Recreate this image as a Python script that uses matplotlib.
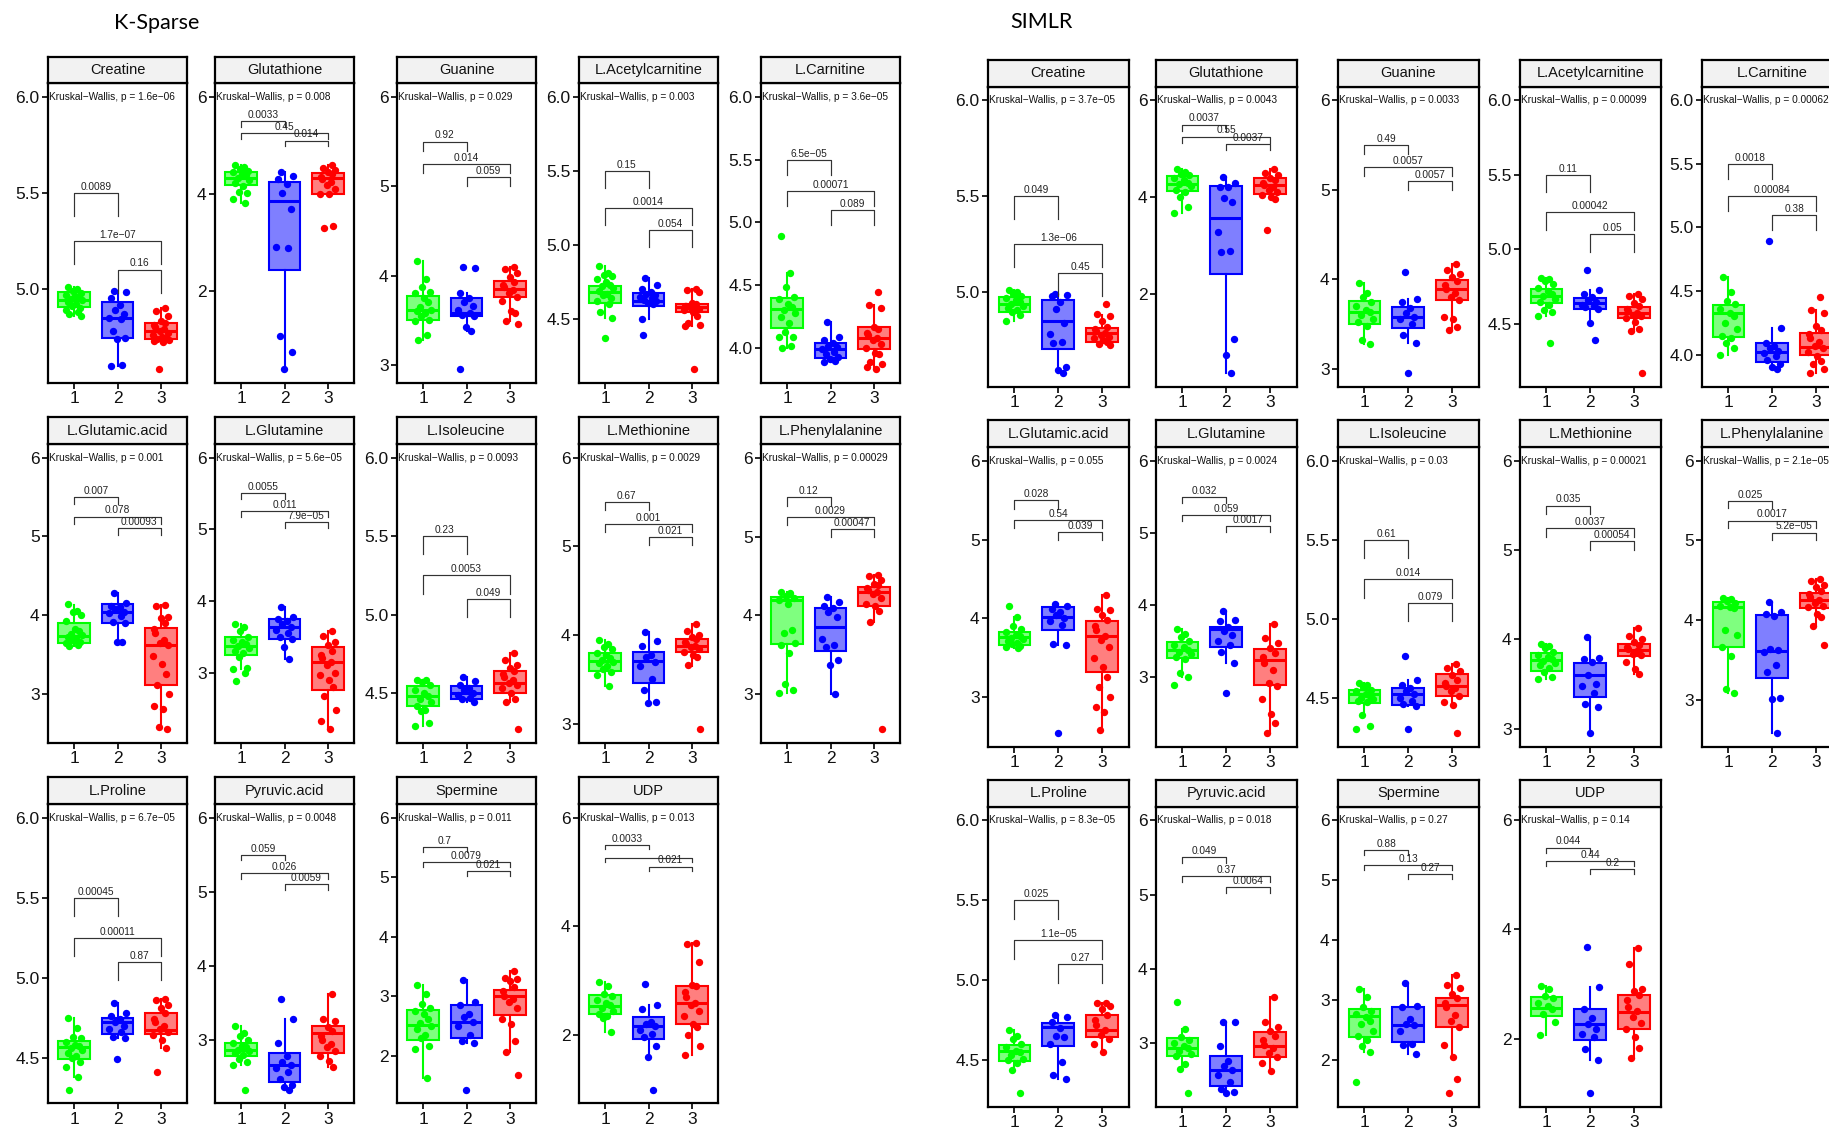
import numpy as np
import matplotlib
matplotlib.use("Agg")
import matplotlib.pyplot as plt
from matplotlib.colors import to_rgba

plt.rcParams['font.family'] = ['Liberation Sans', 'DejaVu Sans']

FIG_W, FIG_H = 1829, 1129

# ---------------- shared definitions ----------------
GROUPS = ["1", "2", "3"]
GROUP_COLORS = ["#00FF00", "#0000FF", "#FF0000"]
METABOLITES = ["Creatine", "Glutathione", "Guanine", "L.Acetylcarnitine", "L.Carnitine",
               "L.Glutamic.acid", "L.Glutamine", "L.Isoleucine", "L.Methionine", "L.Phenylalanine",
               "L.Proline", "Pyruvic.acid", "Spermine", "UDP"]
BRACKET_PAIRS = [(1, 2), (1, 3), (2, 3)]
BRACKET_Y = [5.5, 5.25, 5.1]
KRUSKAL_Y = 6.0
TICK_STEP = [0.5, 2, 1, 0.5, 0.5, 1, 1, 0.5, 1, 1, 0.5, 1, 1, 2]

# ---------------- K-Sparse ----------------
KS_KRUSKAL_P = ["1.6e-06", "0.008", "0.029", "0.003", "3.6e-05", "0.001", "5.6e-05",
                "0.0093", "0.0029", "0.00029", "6.7e-05", "0.0048", "0.011", "0.013"]
KS_PAIR_P = [["0.0089", "1.7e-07", "0.16"], ["0.0033", "0.45", "0.014"], ["0.92", "0.014", "0.059"],
             ["0.15", "0.0014", "0.054"], ["6.5e-05", "0.00071", "0.089"], ["0.007", "0.078", "0.00093"],
             ["0.0055", "0.011", "7.9e-05"], ["0.23", "0.0053", "0.049"], ["0.67", "0.001", "0.021"],
             ["0.12", "0.0029", "0.00047"], ["0.00045", "0.00011", "0.87"], ["0.059", "0.026", "0.0059"],
             ["0.7", "0.0079", "0.021"], ["0.0033", "", "0.021"]]
KS_TIP = [0.12, 0.12, 0.10, 0.113, 0.12, 0.09, 0.08, 0.117, 0.087, 0.11, 0.115, 0.072, 0.073, 0.074]

ks_creatine_pts = ([5.01, 5.00, 4.99, 4.98, 4.97, 4.96, 4.95, 4.945, 4.94, 4.93, 4.92, 4.91, 4.90, 4.89, 4.88, 4.87, 4.86],
                   [4.99, 4.985, 4.95, 4.915, 4.89, 4.87, 4.85, 4.84, 4.78, 4.745, 4.74, 4.605, 4.60],
                   [4.90, 4.885, 4.86, 4.83, 4.82, 4.81, 4.80, 4.79, 4.78, 4.77, 4.76, 4.75, 4.745, 4.74, 4.735, 4.73, 4.725, 4.58])
ks_creatine_box = ([4.86, 4.907, 4.944, 4.984, 5.01], [4.60, 4.742, 4.849, 4.93, 4.99], [4.72, 4.736, 4.78, 4.82, 4.90])

ks_glutathione_pts = ([4.59, 4.55, 4.52, 4.48, 4.45, 4.42, 4.38, 4.33, 4.28, 4.22, 4.17, 4.03, 4.02, 3.90, 3.81],
                      [4.45, 4.37, 4.30, 4.20, 4.02, 3.68, 2.90, 2.88, 1.07, 0.745, 0.38],
                      [4.60, 4.53, 4.50, 4.45, 4.40, 4.35, 4.30, 4.25, 4.18, 4.10, 4.00, 3.99, 3.33, 3.30])
ks_glutathione_box = ([3.81, 4.18, 4.32, 4.455, 4.59], [0.38, 2.42, 3.855, 4.235, 4.45], [3.99, 4.0, 4.33, 4.43, 4.60])

ks_guanine_pts = ([4.165, 3.96, 3.87, 3.82, 3.80, 3.75, 3.70, 3.65, 3.62, 3.60, 3.58, 3.55, 3.50, 3.49, 3.33, 3.28],
                  [4.10, 4.08, 3.80, 3.75, 3.70, 3.66, 3.62, 3.58, 3.56, 3.55, 3.42, 3.38, 2.95],
                  [4.10, 4.07, 4.03, 3.98, 3.93, 3.90, 3.87, 3.84, 3.80, 3.76, 3.72, 3.60, 3.58, 3.49, 3.46])
ks_guanine_box = ([3.28, 3.50, 3.62, 3.775, 4.165], [3.38, 3.547, 3.584, 3.753, 3.80], [3.49, 3.757, 3.846, 3.944, 4.10])

ks_acetyl_pts = ([4.86, 4.81, 4.80, 4.79, 4.77, 4.75, 4.73, 4.72, 4.71, 4.69, 4.67, 4.66, 4.64, 4.62, 4.60, 4.55, 4.505, 4.37],
                 [4.775, 4.73, 4.70, 4.68, 4.67, 4.66, 4.65, 4.64, 4.63, 4.62, 4.61, 4.60, 4.50, 4.39],
                 [4.70, 4.695, 4.68, 4.61, 4.60, 4.59, 4.585, 4.58, 4.575, 4.57, 4.56, 4.55, 4.52, 4.47, 4.46, 4.45, 4.16])
ks_acetyl_box = ([4.505, 4.607, 4.68, 4.725, 4.86], [4.50, 4.59, 4.62, 4.675, 4.775], [4.45, 4.55, 4.58, 4.60, 4.70])

ks_carnitine_pts = ([4.89, 4.60, 4.49, 4.41, 4.39, 4.35, 4.33, 4.30, 4.28, 4.25, 4.20, 4.13, 4.09, 4.09, 4.02, 4.00],
                    [4.21, 4.09, 4.06, 4.04, 4.02, 4.01, 3.99, 3.97, 3.95, 3.93, 3.91, 3.90, 3.89],
                    [4.45, 4.34, 4.32, 4.17, 4.15, 4.12, 4.10, 4.08, 4.06, 4.03, 4.00, 3.96, 3.95, 3.89, 3.87, 3.85, 3.83])
ks_carnitine_box = ([4.0, 4.157, 4.31, 4.40, 4.60], [3.89, 3.92, 3.995, 4.04, 4.21], [3.83, 3.99, 4.08, 4.165, 4.34])

ks_glutamic_pts = ([4.14, 4.05, 4.04, 4.00, 3.93, 3.82, 3.80, 3.76, 3.74, 3.72, 3.70, 3.68, 3.66, 3.64, 3.62, 3.61],
                   [4.28, 4.15, 4.12, 4.10, 4.07, 4.04, 4.02, 3.99, 3.91, 3.90, 3.66, 3.66],
                   [4.13, 4.12, 3.98, 3.96, 3.90, 3.82, 3.77, 3.68, 3.64, 3.62, 3.48, 3.38, 3.25, 3.11, 2.99, 2.85, 2.80, 2.58, 2.55])
ks_glutamic_box = ([3.61, 3.65, 3.735, 3.90, 4.13], [3.66, 3.90, 4.04, 4.14, 4.28], [2.55, 3.105, 3.62, 3.84, 4.13])

ks_glutamine_pts = ([3.675, 3.63, 3.58, 3.50, 3.45, 3.42, 3.40, 3.37, 3.34, 3.30, 3.27, 3.22, 3.07, 3.05, 3.00, 2.88],
                    [3.92, 3.77, 3.75, 3.72, 3.68, 3.64, 3.60, 3.55, 3.50, 3.47, 3.35, 3.19],
                    [3.58, 3.51, 3.42, 3.38, 3.30, 3.25, 3.20, 3.14, 3.10, 3.00, 2.97, 2.90, 2.80, 2.67, 2.47, 2.33, 2.21])
ks_glutamine_box = ([3.05, 3.25, 3.37, 3.49, 3.675], [3.19, 3.465, 3.64, 3.745, 3.92], [2.21, 2.76, 3.14, 3.36, 3.58])

ks_isoleucine_pts = ([4.585, 4.58, 4.57, 4.55, 4.52, 4.50, 4.48, 4.46, 4.44, 4.42, 4.39, 4.385, 4.31, 4.29],
                     [4.60, 4.575, 4.55, 4.53, 4.52, 4.50, 4.49, 4.47, 4.46, 4.44],
                     [4.755, 4.71, 4.68, 4.66, 4.64, 4.62, 4.60, 4.58, 4.565, 4.55, 4.53, 4.50, 4.46, 4.44, 4.27])
ks_isoleucine_box = ([4.29, 4.415, 4.48, 4.543, 4.585], [4.44, 4.46, 4.50, 4.547, 4.60], [4.44, 4.50, 4.565, 4.643, 4.755])

ks_methionine_pts = ([3.94, 3.90, 3.87, 3.84, 3.80, 3.77, 3.74, 3.72, 3.70, 3.68, 3.65, 3.62, 3.58, 3.55, 3.43],
                     [4.03, 3.93, 3.88, 3.78, 3.75, 3.70, 3.65, 3.50, 3.38, 3.25, 3.24],
                     [4.13, 4.05, 4.00, 3.98, 3.95, 3.92, 3.90, 3.88, 3.86, 3.84, 3.81, 3.78, 3.75, 3.66, 2.94])
ks_methionine_box = ([3.43, 3.594, 3.707, 3.80, 3.94], [3.24, 3.46, 3.707, 3.81, 4.03], [3.65, 3.81, 3.88, 3.96, 4.13])

ks_phenyl_pts = ([4.30, 4.28, 4.25, 4.22, 4.20, 4.14, 3.82, 3.78, 3.65, 3.62, 3.53, 3.13, 3.05, 3.02],
                 [4.23, 4.17, 4.12, 4.10, 4.04, 3.98, 3.70, 3.62, 3.60, 3.43, 3.37, 3.00],
                 [4.51, 4.50, 4.45, 4.40, 4.38, 4.35, 4.32, 4.30, 4.27, 4.22, 4.15, 4.12, 4.06, 3.92, 2.56])
ks_phenyl_box = ([3.02, 3.637, 4.20, 4.235, 4.30], [3.0, 3.545, 3.85, 4.09, 4.23], [3.92, 4.12, 4.30, 4.36, 4.51])

ks_proline_pts = ([4.75, 4.685, 4.63, 4.62, 4.60, 4.58, 4.57, 4.56, 4.55, 4.53, 4.51, 4.50, 4.475, 4.44, 4.38, 4.30],
                  [4.84, 4.78, 4.76, 4.74, 4.72, 4.70, 4.68, 4.66, 4.63, 4.62, 4.49],
                  [4.865, 4.86, 4.83, 4.81, 4.78, 4.74, 4.72, 4.70, 4.68, 4.66, 4.64, 4.61, 4.56, 4.41])
ks_proline_box = ([4.38, 4.49, 4.565, 4.605, 4.75], [4.62, 4.65, 4.72, 4.75, 4.84], [4.56, 4.645, 4.676, 4.78, 4.865])

ks_pyruvic_pts = ([3.19, 3.10, 3.06, 3.00, 2.96, 2.92, 2.90, 2.87, 2.85, 2.82, 2.80, 2.75, 2.70, 2.66, 2.33],
                  [3.56, 3.29, 2.96, 2.79, 2.70, 2.66, 2.62, 2.57, 2.47, 2.40, 2.36, 2.33],
                  [3.62, 3.29, 3.25, 3.18, 3.12, 3.05, 3.00, 2.95, 2.90, 2.85, 2.78, 2.72, 2.63])
ks_pyruvic_box = ([2.66, 2.79, 2.87, 2.955, 3.19], [2.33, 2.44, 2.66, 2.83, 3.29], [2.63, 2.82, 3.09, 3.19, 3.62])

ks_spermine_pts = ([3.19, 3.04, 2.87, 2.80, 2.75, 2.70, 2.62, 2.55, 2.50, 2.45, 2.35, 2.30, 2.17, 2.11, 1.62],
                   [3.28, 2.90, 2.85, 2.70, 2.65, 2.57, 2.50, 2.35, 2.25, 2.22, 1.43],
                   [3.43, 3.30, 3.29, 3.26, 3.15, 3.08, 3.00, 2.95, 2.90, 2.80, 2.62, 2.53, 2.25, 2.06, 1.68])
ks_spermine_box = ([1.62, 2.27, 2.51, 2.775, 3.19], [2.22, 2.29, 2.57, 2.85, 3.28], [2.06, 2.685, 3.0, 3.11, 3.43])

ks_udp_pts = ([2.97, 2.91, 2.75, 2.72, 2.65, 2.60, 2.55, 2.50, 2.45, 2.40, 2.35, 2.31, 2.06],
              [2.95, 2.55, 2.48, 2.25, 2.20, 2.17, 2.10, 2.02, 1.97, 1.81, 1.61, 1.00],
              [3.69, 3.68, 3.35, 2.92, 2.90, 2.80, 2.70, 2.60, 2.55, 2.45, 2.35, 2.20, 2.15, 2.01, 1.81, 1.64])
ks_udp_box = ([2.06, 2.395, 2.535, 2.74, 2.97], [1.61, 1.93, 2.17, 2.34, 2.55], [1.64, 2.20, 2.585, 2.905, 3.69])

# ---------------- SIMLR ----------------
S_KRUSKAL_P = ["3.7e-05", "0.0043", "0.0033", "0.00099", "0.00062", "0.055", "0.0024",
               "0.03", "0.00021", "2.1e-05", "8.3e-05", "0.018", "0.27", "0.14"]
S_PAIR_P = [["0.049", "1.3e-06", "0.45"], ["0.0037", "0.55", "0.0037"], ["0.49", "0.0057", "0.0057"],
            ["0.11", "0.00042", "0.05"], ["0.0018", "0.00084", "0.38"], ["0.028", "0.54", "0.039"],
            ["0.032", "0.059", "0.0017"], ["0.61", "0.014", "0.079"], ["0.035", "0.0037", "0.00054"],
            ["0.025", "0.0017", "5.2e-05"], ["0.025", "1.1e-05", "0.27"], ["0.049", "0.37", "0.0064"],
            ["0.88", "0.13", "0.27"], ["0.044", "0.44", "0.2"]]
S_TIP = [0.12, 0.13, 0.10, 0.117, 0.12, 0.106, 0.083, 0.117, 0.10, 0.09, 0.119, 0.08, 0.073, 0.09]

s_creatine_pts = ([5.01, 5.00, 4.99, 4.98, 4.97, 4.96, 4.95, 4.94, 4.93, 4.92, 4.91, 4.90, 4.88, 4.85],
                  [4.99, 4.985, 4.98, 4.95, 4.915, 4.84, 4.785, 4.74, 4.735, 4.61, 4.595, 4.58],
                  [4.94, 4.885, 4.875, 4.85, 4.82, 4.81, 4.80, 4.79, 4.78, 4.77, 4.76, 4.75, 4.74, 4.73, 4.725])
s_creatine_box = ([4.85, 4.90, 4.94, 4.976, 5.01], [4.58, 4.703, 4.85, 4.958, 4.99], [4.725, 4.74, 4.788, 4.816, 4.88])

s_glutathione_pts = ([4.57, 4.52, 4.48, 4.45, 4.40, 4.35, 4.30, 4.27, 4.22, 4.15, 4.10, 4.00, 3.79, 3.67],
                     [4.41, 4.30, 4.21, 4.20, 3.97, 3.90, 3.28, 2.89, 2.87, 1.06, 0.74, 0.36],
                     [4.59, 4.50, 4.45, 4.40, 4.35, 4.30, 4.25, 4.20, 4.15, 4.10, 4.05, 4.00, 3.96, 3.31])
s_glutathione_box = ([3.67, 4.12, 4.28, 4.43, 4.57], [0.36, 2.40, 3.57, 4.22, 4.41], [3.96, 4.06, 4.25, 4.40, 4.59])

s_guanine_pts = ([3.96, 3.84, 3.80, 3.75, 3.70, 3.66, 3.63, 3.60, 3.56, 3.52, 3.48, 3.32, 3.28],
                 [4.08, 3.78, 3.74, 3.68, 3.62, 3.58, 3.55, 3.50, 3.38, 3.29, 2.95],
                 [4.17, 4.10, 4.06, 4.02, 3.98, 3.93, 3.89, 3.85, 3.80, 3.77, 3.58, 3.55, 3.47, 3.43])
s_guanine_box = ([3.28, 3.503, 3.633, 3.753, 3.96], [3.29, 3.458, 3.58, 3.69, 3.78], [3.43, 3.764, 3.894, 3.99, 4.17])

s_acetyl_pts = ([4.81, 4.80, 4.79, 4.77, 4.74, 4.72, 4.70, 4.69, 4.67, 4.65, 4.63, 4.59, 4.58, 4.555, 4.37],
                [4.86, 4.725, 4.70, 4.68, 4.66, 4.645, 4.63, 4.62, 4.61, 4.60, 4.505, 4.39],
                [4.70, 4.69, 4.67, 4.64, 4.62, 4.60, 4.585, 4.57, 4.56, 4.55, 4.54, 4.51, 4.466, 4.45, 4.17])
s_acetyl_box = ([4.555, 4.64, 4.69, 4.736, 4.81], [4.505, 4.60, 4.64, 4.673, 4.725], [4.45, 4.54, 4.572, 4.613, 4.70])

s_carnitine_pts = ([4.61, 4.49, 4.42, 4.40, 4.36, 4.33, 4.30, 4.25, 4.20, 4.15, 4.13, 4.09, 4.05, 4.00],
                   [4.89, 4.21, 4.09, 4.07, 4.05, 4.03, 4.01, 3.99, 3.96, 3.93, 3.90, 3.89],
                   [4.45, 4.35, 4.33, 4.225, 4.19, 4.16, 4.13, 4.10, 4.07, 4.05, 4.02, 3.99, 3.95, 3.925, 3.89, 3.855])
s_carnitine_box = ([4.0, 4.138, 4.33, 4.39, 4.61], [3.89, 3.94, 4.02, 4.09, 4.21], [3.855, 4.0, 4.06, 4.17, 4.35])

s_glutamic_pts = ([4.15, 4.02, 3.90, 3.86, 3.82, 3.79, 3.77, 3.75, 3.73, 3.71, 3.69, 3.67, 3.65, 3.63, 3.62],
                  [4.18, 4.16, 4.12, 4.08, 4.04, 4.00, 3.97, 3.92, 3.67, 3.66, 2.54],
                  [4.29, 4.12, 4.10, 4.04, 3.98, 3.90, 3.85, 3.78, 3.72, 3.64, 3.49, 3.38, 3.25, 3.13, 3.00, 2.87, 2.81, 2.58])
s_glutamic_box = ([3.62, 3.66, 3.76, 3.82, 4.02], [3.66, 3.85, 4.02, 4.14, 4.18], [2.58, 3.32, 3.78, 3.96, 4.29])

s_glutamine_pts = ([3.66, 3.60, 3.55, 3.50, 3.45, 3.41, 3.38, 3.35, 3.32, 3.28, 3.25, 3.05, 3.00, 2.89],
                   [3.92, 3.79, 3.77, 3.70, 3.64, 3.58, 3.50, 3.45, 3.35, 3.19, 2.78],
                   [3.74, 3.54, 3.47, 3.40, 3.33, 3.28, 3.20, 3.10, 2.92, 2.88, 2.70, 2.49, 2.36, 2.22])
s_glutamine_box = ([3.0, 3.26, 3.37, 3.48, 3.66], [3.19, 3.42, 3.66, 3.70, 3.92], [2.22, 2.89, 3.24, 3.385, 3.74])

s_isoleucine_pts = ([4.59, 4.58, 4.57, 4.55, 4.54, 4.52, 4.51, 4.50, 4.49, 4.48, 4.47, 4.39, 4.32, 4.30],
                    [4.765, 4.61, 4.58, 4.56, 4.54, 4.52, 4.50, 4.48, 4.46, 4.445, 4.30],
                    [4.71, 4.69, 4.67, 4.64, 4.61, 4.59, 4.575, 4.56, 4.54, 4.51, 4.47, 4.45, 4.275])
s_isoleucine_box = ([4.39, 4.466, 4.52, 4.55, 4.59], [4.445, 4.455, 4.52, 4.56, 4.61], [4.45, 4.51, 4.575, 4.65, 4.71])

s_methionine_pts = ([3.95, 3.93, 3.90, 3.86, 3.83, 3.80, 3.78, 3.76, 3.74, 3.71, 3.68, 3.64, 3.58, 3.56],
                    [4.03, 3.79, 3.78, 3.75, 3.60, 3.50, 3.48, 3.40, 3.28, 3.24, 2.95],
                    [4.13, 4.04, 4.00, 3.97, 3.94, 3.92, 3.89, 3.87, 3.84, 3.82, 3.75, 3.67, 3.61])
s_methionine_box = ([3.56, 3.647, 3.767, 3.85, 3.95], [2.95, 3.36, 3.60, 3.737, 4.03], [3.61, 3.81, 3.88, 3.947, 4.13])

s_phenyl_pts = ([4.28, 4.26, 4.24, 4.22, 4.18, 4.16, 4.15, 3.87, 3.81, 3.66, 3.55, 3.13, 3.08],
                [4.23, 4.10, 4.08, 4.05, 3.64, 3.62, 3.60, 3.44, 3.35, 3.02, 3.01, 2.58],
                [4.51, 4.49, 4.44, 4.41, 4.37, 4.33, 4.29, 4.25, 4.22, 4.18, 4.16, 4.08, 4.04, 3.92, 3.69])
s_phenyl_box = ([3.08, 3.66, 4.17, 4.227, 4.28], [2.58, 3.27, 3.61, 4.06, 4.23], [3.92, 4.155, 4.255, 4.34, 4.51])

s_proline_pts = ([4.69, 4.65, 4.63, 4.60, 4.58, 4.56, 4.55, 4.53, 4.51, 4.50, 4.48, 4.44, 4.295],
                 [4.78, 4.77, 4.74, 4.70, 4.65, 4.645, 4.60, 4.49, 4.41, 4.38],
                 [4.86, 4.855, 4.84, 4.82, 4.78, 4.75, 4.72, 4.69, 4.66, 4.63, 4.60, 4.55])
s_proline_box = ([4.44, 4.497, 4.555, 4.597, 4.69], [4.38, 4.587, 4.71, 4.733, 4.78], [4.55, 4.645, 4.687, 4.78, 4.86])

s_pyruvic_pts = ([3.55, 3.19, 3.08, 3.05, 3.00, 2.96, 2.93, 2.90, 2.86, 2.83, 2.72, 2.65, 2.33],
                 [3.29, 3.28, 2.96, 2.76, 2.70, 2.64, 2.57, 2.48, 2.39, 2.35, 2.33],
                 [3.62, 3.28, 3.22, 3.16, 3.10, 3.04, 2.98, 2.93, 2.87, 2.82, 2.74, 2.63])
s_pyruvic_box = ([2.65, 2.83, 2.93, 3.067, 3.19], [2.33, 2.43, 2.64, 2.83, 3.29], [2.63, 2.82, 2.97, 3.157, 3.62])

s_spermine_pts = ([3.18, 3.06, 2.88, 2.82, 2.77, 2.72, 2.66, 2.60, 2.48, 2.40, 2.34, 2.24, 2.14, 1.64],
                  [3.28, 2.90, 2.89, 2.68, 2.60, 2.58, 2.48, 2.27, 2.26, 2.11],
                  [3.42, 3.25, 3.20, 3.10, 3.03, 2.95, 2.88, 2.75, 2.65, 2.56, 2.25, 2.06, 1.68, 1.45])
s_spermine_box = ([2.14, 2.38, 2.73, 2.85, 3.18], [2.11, 2.31, 2.59, 2.89, 3.28], [2.06, 2.545, 2.92, 3.04, 3.42])

s_udp_pts = ([2.96, 2.90, 2.78, 2.74, 2.66, 2.60, 2.54, 2.45, 2.30, 2.06],
             [3.67, 2.95, 2.54, 2.38, 2.26, 2.18, 2.08, 2.02, 1.81, 1.61, 1.00],
             [3.66, 3.36, 2.90, 2.88, 2.80, 2.70, 2.58, 2.50, 2.40, 2.28, 2.18, 2.03, 1.83, 1.65])
s_udp_box = ([2.06, 2.42, 2.56, 2.76, 2.96], [1.61, 1.97, 2.26, 2.54, 2.95], [1.65, 2.18, 2.49, 2.80, 3.66])

KS_PTS = [ks_creatine_pts, ks_glutathione_pts, ks_guanine_pts, ks_acetyl_pts, ks_carnitine_pts,
          ks_glutamic_pts, ks_glutamine_pts, ks_isoleucine_pts, ks_methionine_pts, ks_phenyl_pts,
          ks_proline_pts, ks_pyruvic_pts, ks_spermine_pts, ks_udp_pts]
KS_BOX = [ks_creatine_box, ks_glutathione_box, ks_guanine_box, ks_acetyl_box, ks_carnitine_box,
          ks_glutamic_box, ks_glutamine_box, ks_isoleucine_box, ks_methionine_box, ks_phenyl_box,
          ks_proline_box, ks_pyruvic_box, ks_spermine_box, ks_udp_box]
S_PTS = [s_creatine_pts, s_glutathione_pts, s_guanine_pts, s_acetyl_pts, s_carnitine_pts,
         s_glutamic_pts, s_glutamine_pts, s_isoleucine_pts, s_methionine_pts, s_phenyl_pts,
         s_proline_pts, s_pyruvic_pts, s_spermine_pts, s_udp_pts]
S_BOX = [s_creatine_box, s_glutathione_box, s_guanine_box, s_acetyl_box, s_carnitine_box,
         s_glutamic_box, s_glutamine_box, s_isoleucine_box, s_methionine_box, s_phenyl_box,
         s_proline_box, s_pyruvic_box, s_spermine_box, s_udp_box]

# ---------------- layout (pixels) ----------------
KS_COL_X = [48, 215, 397, 579, 761]
KS_PANEL_W = 139
KS_ROWS = [(57, 83.3, 383), (417.3, 444, 742.7), (777.3, 804, 1103.3)]
S_COL_X = [988, 1156, 1338, 1520, 1702]
S_PANEL_W = 140.5
S_ROWS = [(60, 86.7, 386.7), (420, 447.3, 746.7), (780, 806.7, 1106.7)]

# horizontal jitter pattern (positions only)
JITTER = [-0.13, 0.07, -0.02, 0.16, -0.18, 0.03, 0.12, -0.08, 0.19, -0.15,
          0.05, -0.05, 0.14, -0.19, 0.09, -0.11, 0.17, -0.01, 0.10, -0.16]

TEXT_COL = "#111111"


def minus(s):
    return s.replace("-", "\u2212")


def draw_panel(fig, x0, width, row, name, pts, box, kp, pair_p, step, tip):
    strip_top, ax_top, ax_bot = row
    ax = fig.add_axes([x0 / FIG_W, 1 - ax_bot / FIG_H, width / FIG_W, (ax_bot - ax_top) / FIG_H])
    sx = fig.add_axes([x0 / FIG_W, 1 - ax_top / FIG_H, width / FIG_W, (ax_top - strip_top) / FIG_H])

    # strip
    sx.set_facecolor("#F2F2F2")
    sx.set_xticks([])
    sx.set_yticks([])
    for sp in sx.spines.values():
        sp.set_linewidth(1.6)
        sp.set_color("black")
    sx.text(0.5, 0.5, name, ha="center", va="center", fontsize=10.5, color=TEXT_COL,
            transform=sx.transAxes)

    # limits
    ymin = min(min(g) for g in pts)
    rng = KRUSKAL_Y - ymin
    lo, hi = ymin - 0.05 * rng, KRUSKAL_Y + 0.05 * rng
    ax.set_ylim(lo, hi)
    ax.set_xlim(0.4, 3.6)

    # boxes
    stats = [dict(whislo=b[0], q1=b[1], med=b[2], q3=b[3], whishi=b[4], fliers=[]) for b in box]
    bp = ax.bxp(stats, positions=[1, 2, 3], widths=0.72, patch_artist=True,
                showcaps=False, showfliers=False, manage_ticks=False)
    for k, c in enumerate(GROUP_COLORS):
        bp["boxes"][k].set(facecolor=to_rgba(c, 0.5), edgecolor=c, linewidth=1.5, zorder=2)
        for w in bp["whiskers"][2 * k:2 * k + 2]:
            w.set(color=c, linewidth=1.5, zorder=2)
        bp["medians"][k].set(color=c, linewidth=2.2, zorder=2.5)

    # jittered points
    for k, (vals, c) in enumerate(zip(pts, GROUP_COLORS)):
        xs = [k + 1 + JITTER[(i + 7 * k) % len(JITTER)] for i in range(len(vals))]
        ax.scatter(xs, vals, s=28, color=c, linewidths=0, zorder=4)

    # pairwise brackets
    for (a, b), y, lab in zip(BRACKET_PAIRS, BRACKET_Y, pair_p):
        ax.plot([a, a, b, b], [y - tip, y, y, y - tip], color="#333333", lw=0.85, zorder=5)
        if lab:
            ax.annotate(minus(lab), xy=((a + b) / 2, y), xytext=(0, 0.8), textcoords="offset points",
                        ha="center", va="bottom", fontsize=7.3, color="#222222", zorder=6)

    # Kruskal-Wallis
    ax.text(0.008, KRUSKAL_Y, minus("Kruskal-Wallis, p = " + kp), transform=ax.get_yaxis_transform(),
            ha="left", va="center", fontsize=7.3, color=TEXT_COL, zorder=6)

    # ticks
    t0 = np.ceil(lo / step - 1e-9) * step
    ticks = np.arange(t0, KRUSKAL_Y + step * 0.01, step)
    ax.set_yticks(ticks)
    ax.set_yticklabels([f"{t:.1f}" if step < 1 else f"{t:.0f}" for t in ticks])
    ax.set_xticks([1, 2, 3])
    ax.set_xticklabels(GROUPS)
    ax.tick_params(direction="out", length=4, width=1.2, labelsize=12.5, pad=2,
                   colors="black", labelcolor=TEXT_COL)
    for sp in ax.spines.values():
        sp.set_linewidth(1.6)
        sp.set_color("black")
        sp.set_zorder(7)


fig = plt.figure(figsize=(FIG_W / 100, FIG_H / 100), dpi=100)

for i, name in enumerate(METABOLITES):
    r, c = divmod(i, 5)
    draw_panel(fig, KS_COL_X[c], KS_PANEL_W, KS_ROWS[r], name, KS_PTS[i], KS_BOX[i],
               KS_KRUSKAL_P[i], KS_PAIR_P[i], TICK_STEP[i], KS_TIP[i])
    draw_panel(fig, S_COL_X[c], S_PANEL_W, S_ROWS[r], name, S_PTS[i], S_BOX[i],
               S_KRUSKAL_P[i], S_PAIR_P[i], TICK_STEP[i], S_TIP[i])

fig.text(156.5 / FIG_W, 1 - 22.7 / FIG_H, "K-Sparse", family=["Lato", "DejaVu Sans"],
         fontsize=15.5, ha="center", va="center", color="black")
fig.text(1041 / FIG_W, 1 - 22.0 / FIG_H, "SIMLR", family=["Lato", "DejaVu Sans"],
         fontsize=15.5, ha="center", va="center", color="black")

fig.savefig("out.png", dpi=100)
